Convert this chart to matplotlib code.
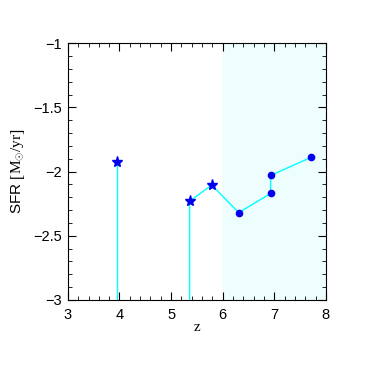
import matplotlib
matplotlib.use('Agg')
import matplotlib.pyplot as plt
from matplotlib.ticker import MultipleLocator, FuncFormatter

plt.rcParams['font.family'] = ['Liberation Sans', 'DejaVu Sans']
plt.rcParams['mathtext.fontset'] = 'custom'
plt.rcParams['mathtext.rm'] = 'Liberation Serif'

# first source: isolated upper limit
z1 = [3.95]
sfr1 = [-1.926]

# connected track (stars then dots)
z_star = [5.36, 5.79]
sfr_star = [-2.23, -2.105]
z_dot = [6.31, 6.93, 6.93, 7.71]
sfr_dot = [-2.32, -2.17, -2.03, -1.89]

fig = plt.figure(figsize=(3.69, 3.69), dpi=100)
ax = fig.add_axes([0.184, 0.187, 0.699, 0.696])

ax.axvspan(6, 8, color='#eefefe', zorder=0)

line_c = '#00ffff'
ax.plot([z1[0], z1[0]], [-3, sfr1[0]], color=line_c, lw=1.0, zorder=1)
zz = [z_star[0]] + z_star + z_dot
ss = [-3] + sfr_star + sfr_dot
ax.plot(zz, ss, color=line_c, lw=1.0, zorder=1)

ax.plot(z1 + z_star, sfr1 + sfr_star, linestyle='', marker='*', ms=8, color='#0000ee', zorder=3)
ax.plot(z_dot, sfr_dot, linestyle='', marker='o', ms=4.5, color='#0000ee', zorder=3)

ax.set_xlim(3, 8)
ax.set_ylim(-3, -1)
ax.xaxis.set_major_locator(MultipleLocator(1))
ax.xaxis.set_minor_locator(MultipleLocator(0.2))
ax.yaxis.set_major_locator(MultipleLocator(0.5))
ax.yaxis.set_minor_locator(MultipleLocator(0.1))
ax.yaxis.set_major_formatter(FuncFormatter(lambda v, p: ('%g' % v).replace('-', '\u2212')))
ax.tick_params(which='both', direction='in', top=True, right=True, labelsize=10.5)
ax.tick_params(which='major', length=6, width=0.8)
ax.tick_params(which='minor', length=3, width=0.6)
ax.tick_params(axis='x', pad=6)
ax.tick_params(axis='y', pad=4)

ax.set_xlabel('z', fontsize=11, family='Liberation Serif', labelpad=-1)
ax.set_ylabel(r'SFR $\left[\mathrm{M_{\odot}/yr}\right]$', fontsize=11, labelpad=5)

fig.savefig('out.png', dpi=100)
